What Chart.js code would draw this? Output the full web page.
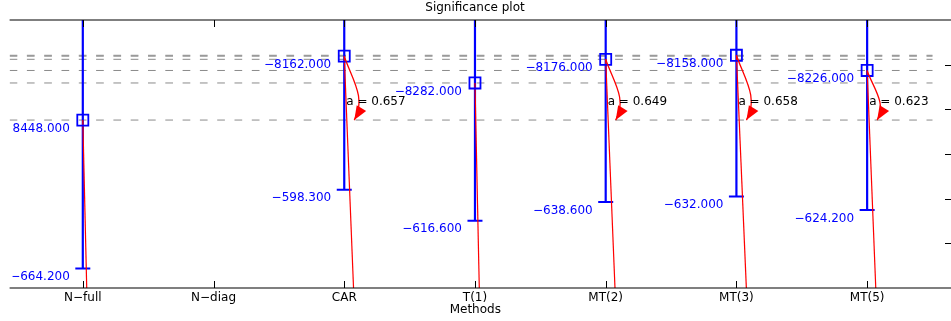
<!DOCTYPE html>
<html>
<head>
<meta charset="utf-8">
<script src="https://cdn.jsdelivr.net/npm/chart.js@4.4.1/dist/chart.umd.min.js"></script>
<style>
  html, body { margin: 0; padding: 0; background: #fff; overflow: hidden; }
  #wrap { width: 951px; height: 321px; }
</style>
</head>
<body>
<div id="wrap"><canvas id="sig" width="951" height="321"></canvas></div>
<script>
// methods on the x axis
const categories = ['N\u2212full', 'N\u2212diag', 'CAR', 'T(1)', 'MT(2)', 'MT(3)', 'MT(5)']
// mean log-likelihood per method (N-diag has no result)
const means = [-8448, null, -8162, -8282, -8176, -8158, -8226]
// half-width of the interval, shown at the lower end of each bar
const spreads = [-664.2, null, -598.3, -616.6, -638.6, -632.0, -624.2]
// significance against N-full
const alphas = [null, null, 0.657, null, 0.649, 0.658, 0.623]
// sideways drift of the red tail line at the bottom of the axis (category units)
const tailShift = [0.03, null, 0.071, 0.033, 0.071, 0.076, 0.066]
// right-hand y ticks
const yTicks = [-9000, -8800, -8600, -8400, -8200]

const X_MIN = -0.56
const X_MAX = 6.565
const Y_MIN = -9200
const Y_MAX = -8000

const BLUE = '#0000ff'
const RED = '#ff0000'
const FONT = '"DejaVu Sans", sans-serif'

const fmt = (v) => v.toFixed(3).replace('-', '\u2212')

Chart.defaults.font.family = FONT
Chart.defaults.font.size = 12
Chart.defaults.color = '#000'

const datasets = []

// dashed level lines at every mean
means.forEach((m) => {
  if (m == null) return
  datasets.push({
    data: [{ x: X_MIN, y: m }, { x: categories.length - 0.5, y: m }],
    borderColor: '#8a8a8a',
    borderWidth: 1,
    borderDash: [7.7, 9.6],
    pointRadius: 0,
    order: 5,
  })
})

// blue intervals, cap at the lower end
means.forEach((m, i) => {
  if (m == null) return
  datasets.push({
    data: [{ x: i, y: m - spreads[i] }, { x: i, y: m + spreads[i] }],
    borderColor: BLUE,
    borderWidth: 2.2,
    pointStyle: 'line',
    pointRadius: [0, 7.5],
    pointBorderWidth: 2,
    pointBorderColor: BLUE,
    order: 4,
  })
})

// thin red tails running down from each mean
means.forEach((m, i) => {
  if (m == null) return
  datasets.push({
    data: [{ x: i, y: m }, { x: i + tailShift[i], y: Y_MIN }],
    borderColor: RED,
    borderWidth: 1.2,
    pointRadius: 0,
    order: 3,
  })
})

// square markers at the means
datasets.push({
  data: means.map((m, i) => (m == null ? null : { x: i, y: m })).filter(Boolean),
  showLine: false,
  pointStyle: 'rect',
  pointRadius: 7.8,
  pointBorderWidth: 1.8,
  pointBorderColor: BLUE,
  pointBackgroundColor: 'rgba(0,0,0,0)',
  order: 1,
})

const overlay = {
  id: 'overlay',
  afterDatasetsDraw(chart) {
    const { ctx, chartArea: a, scales: { x, y } } = chart
    const yRef = y.getPixelForValue(means[0])
    ctx.save()
    ctx.beginPath()
    ctx.rect(a.left + 3, a.top, a.right - a.left - 3, a.bottom - a.top)
    ctx.clip()

    // curved arrows down to the N-full level with their a = labels
    alphas.forEach((p, i) => {
      if (p == null) return
      const x0 = x.getPixelForValue(i)
      const y0 = y.getPixelForValue(means[i])
      const h = yRef - y0
      const tx = x0 + 10
      const ty = yRef
      const c1x = x0 + 0.11 * h
      const c1y = y0 + h / 3
      const c2x = x0 + 10 + 0.2 * h
      const c2y = y0 + (2 * h) / 3
      ctx.strokeStyle = RED
      ctx.lineWidth = 1.3
      ctx.beginPath()
      ctx.moveTo(x0, y0)
      ctx.bezierCurveTo(c1x, c1y, c2x, c2y, tx, ty)
      ctx.stroke()

      let dx = tx - c2x
      let dy = ty - c2y
      const len = Math.hypot(dx, dy)
      dx /= len
      dy /= len
      const bx = tx - dx * 14
      const by = ty - dy * 14
      ctx.fillStyle = RED
      ctx.beginPath()
      ctx.moveTo(tx, ty)
      ctx.lineTo(bx - dy * 5.5, by + dx * 5.5)
      ctx.lineTo(bx + dy * 5.5, by - dx * 5.5)
      ctx.closePath()
      ctx.fill()

      ctx.fillStyle = '#000'
      ctx.font = '12px ' + FONT
      ctx.textAlign = 'left'
      ctx.textBaseline = 'middle'
      ctx.fillText('a = ' + p.toFixed(3), x0 + 2, yRef - 18.5)
    })

    // blue value labels: mean and lower end
    ctx.fillStyle = BLUE
    ctx.font = '12px ' + FONT
    ctx.textAlign = 'right'
    ctx.textBaseline = 'middle'
    means.forEach((m, i) => {
      if (m == null) return
      const px = x.getPixelForValue(i) - 13
      ctx.fillText(fmt(m), px, y.getPixelForValue(m) + 8.5)
      ctx.fillText(fmt(spreads[i]), px, y.getPixelForValue(m + spreads[i]) + 8.5)
    })
    ctx.restore()
  },
  afterDraw(chart) {
    const { ctx, chartArea: a, scales: { x, y }, width } = chart
    ctx.save()
    ctx.strokeStyle = '#000'
    ctx.lineWidth = 1.2
    ctx.beginPath()
    ctx.moveTo(a.left, a.top)
    ctx.lineTo(width, a.top)
    ctx.moveTo(a.left, a.bottom)
    ctx.lineTo(width, a.bottom)
    ctx.stroke()
    ctx.lineWidth = 1
    ctx.beginPath()
    categories.forEach((c, i) => {
      const px = Math.round(x.getPixelForValue(i)) + 0.5
      ctx.moveTo(px, a.top)
      ctx.lineTo(px, a.top + 7)
      ctx.moveTo(px, a.bottom)
      ctx.lineTo(px, a.bottom - 7)
    })
    yTicks.forEach((v) => {
      const py = Math.round(y.getPixelForValue(v)) + 0.5
      ctx.moveTo(width - 6, py)
      ctx.lineTo(width, py)
    })
    ctx.stroke()
    ctx.restore()
  },
}

new Chart(document.getElementById('sig'), {
  type: 'line',
  data: { datasets },
  options: {
    responsive: false,
    animation: false,
    events: [],
    layout: { padding: { left: 9, right: 10, top: 0, bottom: 0 } },
    plugins: {
      legend: { display: false },
      tooltip: { enabled: false },
      title: {
        display: true,
        text: 'Significance plot',
        font: { size: 12, weight: 'normal' },
        color: '#000',
        padding: { top: 1, bottom: 4.6 },
      },
    },
    scales: {
      x: {
        type: 'linear',
        min: X_MIN,
        max: X_MAX,
        grid: { display: false, drawTicks: false },
        border: { display: false },
        ticks: {
          autoSkip: false,
          maxRotation: 0,
          padding: 3,
          color: '#000',
          callback: (v) => categories[v],
        },
        afterBuildTicks: (scale) => {
          scale.ticks = categories.map((c, i) => ({ value: i }))
        },
        afterFit: (scale) => {
          scale.height = 33
        },
        title: {
          display: true,
          text: 'Methods',
          color: '#000',
          font: { size: 12 },
          padding: { top: 0, bottom: 3.8 },
        },
      },
      y: {
        display: false,
        min: Y_MIN,
        max: Y_MAX,
      },
    },
  },
  plugins: [overlay],
})
</script>
</body>
</html>
